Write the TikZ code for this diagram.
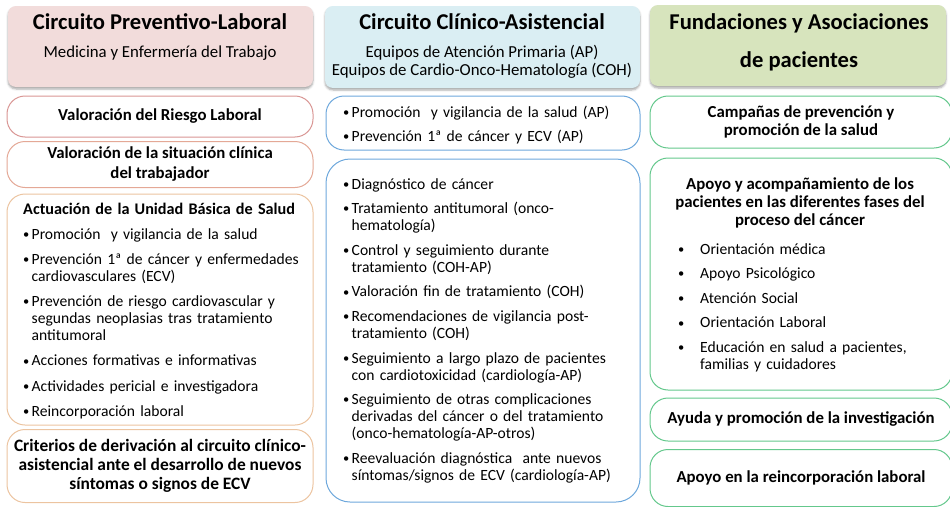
\documentclass[tikz,border=0pt]{standalone}
\usepackage{fontspec}
\setmainfont{Carlito}
\usetikzlibrary{positioning,shadows.blur}

\definecolor{rosaFondo}{RGB}{242,220,219}
\definecolor{azulFondo}{RGB}{218,238,243}
\definecolor{verdeFondo}{RGB}{215,228,189}
\definecolor{rojoBorde}{RGB}{217,150,148}
\definecolor{salmonBorde}{RGB}{228,168,150}
\definecolor{ocreBorde}{RGB}{236,196,160}
\definecolor{azulBorde}{RGB}{110,168,220}
\definecolor{verdeBorde}{RGB}{100,200,140}

\tikzset{
        cabecera/.style = {rectangle, rounded corners=8pt, inner sep=0pt,
            blur shadow={shadow xshift=0pt, shadow yshift=-2pt,
                shadow blur radius=2pt, shadow opacity=35}},
        caja/.style = {draw, rectangle, rounded corners=18pt, line width=1pt,
            fill=white, inner sep=0pt},
        titulo/.style = {anchor=base, inner sep=0pt,
            font=\fontsize{22.6}{26}\bfseries\selectfont},
        subtitulo/.style = {anchor=base, inner sep=0pt,
            font=\fontsize{16.8}{18}\selectfont},
        negrita/.style = {align=center,
            font=\fontsize{16.8}{18.8}\bfseries\selectfont},
        lista/.style = {anchor=base west, inner sep=0pt, align=left,
            text width=300pt,
            font=\fontsize{15.6}{17}\selectfont\setlength{\parskip}{7.6pt}},
    }

% vineta con sangria francesa
\newcommand{\vineta}[2][8.5pt]{\noindent\hangindent=#1\hangafter=1%
    \makebox[#1][l]{\raisebox{0.05em}{\scalebox{0.8}{\textbullet}}}#2\par}

\begin{document}
\begin{tikzpicture}[x=1pt,y=1pt,yscale=-1,xscale=1]
    \useasboundingbox (0,0) rectangle (950,506);

    % cabeceras
    \node[cabecera, fill=rosaFondo, minimum width=305, minimum height=81] (cabPrev) at (160.5,46.5) {};
    \node[cabecera, fill=azulFondo, minimum width=315, minimum height=82] (cabClin) at (482.5,47) {};
    \node[cabecera, fill=verdeFondo, minimum width=296, minimum height=81] (cabFund) at (798,45.5) {};

    \node[titulo] (tPrev) at (160,29.5) {Circuito Preventivo-Laboral};
    \node[subtitulo] (sPrev) at (160,57.5) {Medicina y Enfermería del Trabajo};
    \node[titulo] (tClin) at (482,29.5) {Circuito Clínico-Asistencial};
    \node[subtitulo] (sClin1) at (482,57.5) {Equipos de Atención Primaria (AP)};
    \node[subtitulo] (sClin2) at (482,75.5) {Equipos de Cardio-Onco-Hematología (COH)};
    \node[titulo] (tFund1) at (799,29.5) {Fundaciones y Asociaciones};
    \node[titulo] (tFund2) at (799,67.5) {de pacientes};

    % circuito preventivo-laboral
    \node[caja, draw=rojoBorde, minimum width=306, minimum height=41, negrita] (riesgo) at (160,116.5) {Valoración del Riesgo Laboral};
    \node[caja, draw=salmonBorde, minimum width=306, minimum height=46, negrita, font=\fontsize{16.8}{20}\bfseries\selectfont] (clinica) at (160,164.5) {Valoración de la situación clínica\\del trabajador};
    \node[caja, draw=ocreBorde, minimum width=306, minimum height=231] (unidad) at (160,309.5) {};
    \node[caja, draw=ocreBorde, minimum width=306, minimum height=73, negrita, font=\fontsize{17.4}{19}\bfseries\selectfont] (criterios) at (160,466) {Criterios de derivación al circuito clínico-\\asistencial ante el desarrollo de nuevos\\síntomas o signos de ECV};

    \node[lista, font=\fontsize{15.6}{17}\selectfont\setlength{\parskip}{8.2pt}] (listaUnidad) at (23,214) {{\bfseries\fontsize{16.2}{17}\selectfont Actuación de la Unidad Básica de Salud}\par
        \vineta{Promoción\ \ y vigilancia de la salud}
        \vineta{Prevención 1ª de cáncer y enfermedades\newline cardiovasculares (ECV)}
        \vineta{Prevención de riesgo cardiovascular y\newline segundas neoplasias tras tratamiento\newline antitumoral}
        \vineta{Acciones formativas e informativas}
        \vineta{Actividades pericial e investigadora}
        \vineta{Reincorporación laboral}};

    % circuito clinico-asistencial
    \node[caja, draw=azulBorde, minimum width=314, minimum height=54] (promocion) at (483,123) {};
    \node[caja, draw=azulBorde, rounded corners=24pt, minimum width=314, minimum height=343] (asistencia) at (483,330.5) {};

    \node[lista] (listaPromocion) at (343,117) {\vineta{Promoción\ \ y vigilancia de la salud (AP)}
        \vineta{Prevención 1ª de cáncer y ECV (AP)}};

    \node[lista] (listaAsistencia) at (343,189) {\vineta{Diagnóstico de cáncer}
        \vineta{Tratamiento antitumoral (onco-\newline hematología)}
        \vineta{Control y seguimiento durante\newline tratamiento (COH-AP)}
        \vineta{Valoración fin de tratamiento (COH)}
        \vineta{Recomendaciones de vigilancia post-\newline tratamiento (COH)}
        \vineta{Seguimiento a largo plazo de pacientes\newline con cardiotoxicidad (cardiología-AP)}
        \vineta{Seguimiento de otras complicaciones\newline derivadas del cáncer o del tratamiento\newline (onco-hematología-AP-otros)}
        \vineta{Reevaluación diagnóstica\ \ ante nuevos\newline síntomas/signos de ECV (cardiología-AP)}};

    % fundaciones y asociaciones
    \node[caja, draw=verdeBorde, minimum width=302, minimum height=52, negrita, font=\fontsize{16.8}{18}\bfseries\selectfont] (campanas) at (801,122) {Campañas de prevención y\\promoción de la salud};
    \node[caja, draw=verdeBorde, minimum width=302, minimum height=232] (apoyo) at (801,274) {};
    \node[caja, draw=verdeBorde, minimum width=302, minimum height=43, negrita] (investigacion) at (801,419.5) {Ayuda y promoción de la investigación};
    \node[caja, draw=verdeBorde, minimum width=302, minimum height=57, negrita] (reincorporacion) at (801,478) {Apoyo en la reincorporación laboral};

    \node[negrita, inner sep=0pt, font=\fontsize{16.8}{18}\bfseries\selectfont] (apoyoTit) at (800,203) {Apoyo y acompañamiento de los\\pacientes en las diferentes fases del\\proceso del cáncer};
    \node[lista, text width=260pt] (listaApoyo) at (678,254) {\vineta[22pt]{Orientación médica}
        \vineta[22pt]{Apoyo Psicológico}
        \vineta[22pt]{Atención Social}
        \vineta[22pt]{Orientación Laboral}
        \vineta[22pt]{Educación en salud a pacientes,\newline familias y cuidadores}};

\end{tikzpicture}
\end{document}
